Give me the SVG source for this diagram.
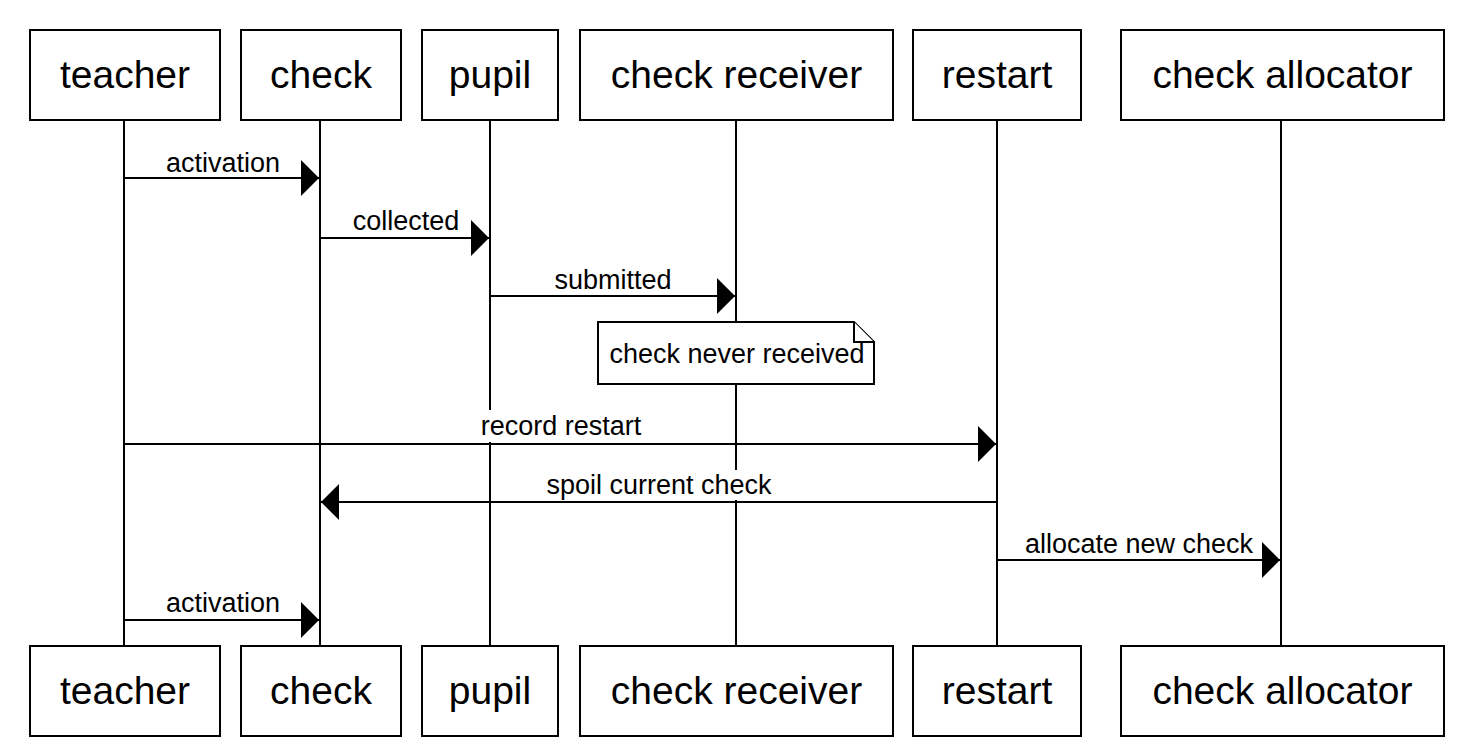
<svg xmlns="http://www.w3.org/2000/svg" width="1476" height="756" viewBox="0 0 1476 756">
<style>
.box{fill:#fff;stroke:#000;stroke-width:2}
.life{stroke:#000;stroke-width:2;fill:none}
.msg{stroke:#000;stroke-width:2;fill:none;marker-end:url(#arrow)}
.name{font-family:"Liberation Sans",Arial,sans-serif;font-size:39px;text-anchor:middle;fill:#000}
.lbl{font-family:"Liberation Sans",Arial,sans-serif;font-size:27px;text-anchor:middle;fill:#000}
.bg{fill:#fff;stroke:none}
.note{fill:#fff;stroke:#000;stroke-width:2}
</style>
<defs>
<marker id="arrow" viewBox="0 0 18 36" refX="18" refY="18" markerWidth="18" markerHeight="36" markerUnits="userSpaceOnUse" orient="auto">
<path d="M0,0 L18,18 L0,36 Z" fill="#000"/>
</marker>
</defs>
<rect width="1476" height="756" fill="#fff"/>
<g id="lifelines">
<line class="life" x1="124" y1="120" x2="124" y2="646"/>
<line class="life" x1="320" y1="120" x2="320" y2="646"/>
<line class="life" x1="490" y1="120" x2="490" y2="646"/>
<line class="life" x1="736" y1="120" x2="736" y2="646"/>
<line class="life" x1="997" y1="120" x2="997" y2="646"/>
<line class="life" x1="1281" y1="120" x2="1281" y2="646"/>
</g>
<g id="teacher">
<rect class="box" x="30" y="30" width="190" height="90"/>
<text class="name" x="125" y="88">teacher</text>
<rect class="box" x="30" y="646" width="190" height="90"/>
<text class="name" x="125" y="704">teacher</text>
</g>
<g id="check">
<rect class="box" x="241" y="30" width="160" height="90"/>
<text class="name" x="321" y="88">check</text>
<rect class="box" x="241" y="646" width="160" height="90"/>
<text class="name" x="321" y="704">check</text>
</g>
<g id="pupil">
<rect class="box" x="422" y="30" width="136" height="90"/>
<text class="name" x="490" y="88">pupil</text>
<rect class="box" x="422" y="646" width="136" height="90"/>
<text class="name" x="490" y="704">pupil</text>
</g>
<g id="check-receiver">
<rect class="box" x="580" y="30" width="313" height="90"/>
<text class="name" x="736.5" y="88">check receiver</text>
<rect class="box" x="580" y="646" width="313" height="90"/>
<text class="name" x="736.5" y="704">check receiver</text>
</g>
<g id="restart">
<rect class="box" x="913" y="30" width="168" height="90"/>
<text class="name" x="997" y="88">restart</text>
<rect class="box" x="913" y="646" width="168" height="90"/>
<text class="name" x="997" y="704">restart</text>
</g>
<g id="check-allocator">
<rect class="box" x="1121" y="30" width="323" height="90"/>
<text class="name" x="1282.5" y="88">check allocator</text>
<rect class="box" x="1121" y="646" width="323" height="90"/>
<text class="name" x="1282.5" y="704">check allocator</text>
</g>
<g id="note-never-received">
<path class="note" d="M598,322 L854,322 L874,342 L874,384 L598,384 Z"/>
<path class="note" d="M854,322 L854,342 L874,342" fill="none"/>
<text class="lbl" x="737" y="363">check never received</text>
</g>
<g id="connectors">
<line class="msg" x1="125" y1="178" x2="319" y2="178"/>
<line class="msg" x1="321" y1="238" x2="489" y2="238"/>
<line class="msg" x1="491" y1="296" x2="735" y2="296"/>
<line class="msg" x1="125" y1="444" x2="996" y2="444"/>
<line class="msg" x1="997" y1="502" x2="321" y2="502"/>
<line class="msg" x1="998" y1="560" x2="1280" y2="560"/>
<line class="msg" x1="125" y1="620" x2="319" y2="620"/>
</g>
<g id="labels">
<text class="lbl" x="223" y="172">activation</text>
<text class="lbl" x="406" y="230">collected</text>
<text class="lbl" x="613" y="289">submitted</text>
<rect class="bg" x="478" y="410" width="166" height="32"/>
<text class="lbl" x="561" y="435">record restart</text>
<rect class="bg" x="542" y="470" width="234" height="30"/>
<text class="lbl" x="659" y="494">spoil current check</text>
<text class="lbl" x="1139" y="553">allocate new check</text>
<text class="lbl" x="223" y="612">activation</text>
</g>
</svg>
